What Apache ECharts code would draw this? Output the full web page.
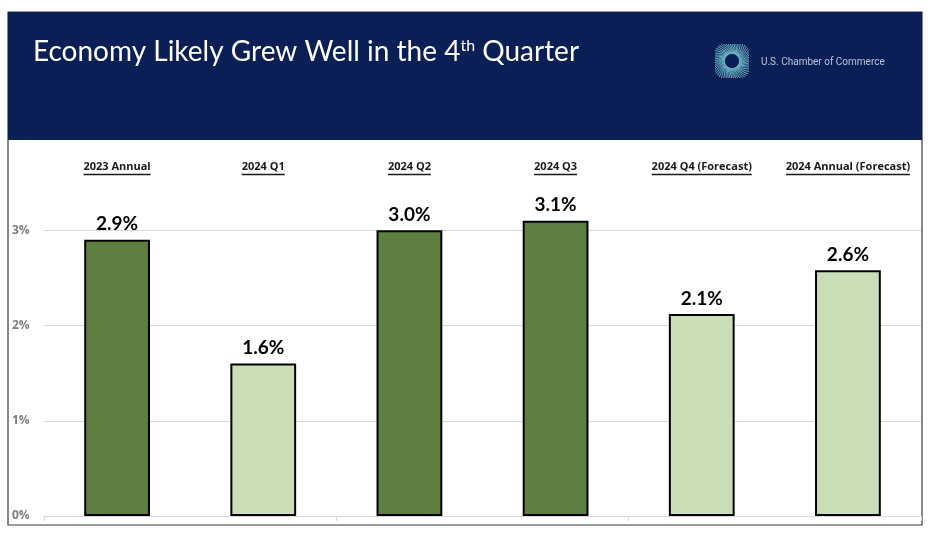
<!DOCTYPE html>
<html><head><meta charset="utf-8">
<script src="https://cdn.jsdelivr.net/npm/echarts@6/dist/echarts.min.js"></script>
<style>html,body{margin:0;padding:0;background:#fff}#c{width:936px;height:540px}</style>
</head><body><div id="c"></div>
<script>
const categories = ['2023 Annual','2024 Q1','2024 Q2','2024 Q3','2024 Q4 (Forecast)','2024 Annual (Forecast)'];
const growth = [2.9, 1.6, 3.0, 3.1, 2.12, 2.58];
const shade = ['dark','light','dark','dark','light','light'];
const yTicks = [0, 1, 2, 3, 4];

const palette = {dark:'#5E7F3F', light:'#CADFB8'};
const catFont = 'bold 11px "Open Sans"';
const mctx = document.createElement('canvas').getContext('2d');
mctx.font = catFont;
const widths = categories.map(c => Math.round(mctx.measureText(c).width));

const chart = echarts.init(document.getElementById('c'), null, {renderer:'canvas'});

// logo rays
const logo = [];
const cx = 732, cy = 61;
for (let i = 0; i < 56; i++) {
  const a = i / 56 * Math.PI * 2;
  const b = a + 0.6;
  const sq = 1 / Math.max(Math.abs(Math.cos(a)), Math.abs(Math.sin(a)));
  const r0 = 7, r1 = Math.min(17 * sq, 20.5);
  logo.push({type:'line', shape:{x1:cx + r0*Math.cos(b), y1:cy + r0*Math.sin(b), x2:cx + r1*Math.cos(a), y2:cy + r1*Math.sin(a)},
    style:{stroke:'#7FD3DA', lineWidth:0.8}, z:5});
}

chart.setOption({
  animation:false,
  backgroundColor:'#ffffff',
  graphic:[
    {type:'rect', shape:{x:8, y:12, width:914, height:513}, style:{fill:'#fff', stroke:'#3a3a3a', lineWidth:1.2}, z:-10, silent:true},
    {type:'rect', shape:{x:8, y:12, width:914, height:128}, style:{fill:'#0B1F57'}, z:3, silent:true},
    {type:'text', left:33, top:38, z:4, style:{
      text:'{a|Economy Likely Grew Well in the 4}{s|th}{a| Quarter}',
      rich:{a:{fontFamily:'Lato', fontSize:28, fill:'#fff', color:'#fff', verticalAlign:'bottom'},
            s:{fontFamily:'Lato', fontSize:16, fill:'#fff', color:'#fff', verticalAlign:'top', padding:[0,0,12,0]}}
    }},
    {type:'group', z:5, children: logo},
    {type:'circle', shape:{cx:cx, cy:cy, r:7}, style:{fill:'#0B1F57'}, z:6},
    {type:'text', left:761, top:57, z:5, style:{text:'U.S. Chamber of Commerce', fontFamily:'Roboto', fontSize:10, fill:'#B9C4DC'}}
  ],
  grid:{left:44, right:15, top:135, bottom:24},
  xAxis:[
    {type:'category', data:categories, position:'bottom',
      axisLine:{show:true, lineStyle:{color:'#d9d9d9', width:1}},
      axisTick:{show:true, length:5, lineStyle:{color:'#d9d9d9'}},
      axisLabel:{show:false}},
    {type:'category', data:categories, position:'top',
      axisLine:{show:false}, axisTick:{show:false},
      axisLabel:{show:true, inside:true, margin:25, interval:0,
        formatter:(v, i) => '{t|' + v + '}\n{u' + i + '|}',
        rich:Object.assign({t:{fontFamily:'Open Sans', fontWeight:'bold', fontSize:11, color:'#1a1a1a', lineHeight:13, align:'center'}},
          Object.fromEntries(categories.map((c, i) => ['u' + i, {backgroundColor:'#1a1a1a', height:1.5, lineHeight:3, width:widths[i], align:'center'}])))
      }}
  ],
  yAxis:{type:'value', min:0, max:4, interval:1,
    axisLine:{show:false}, axisTick:{show:false},
    splitLine:{show:true, showMaxLine:false, lineStyle:{color:'#d9d9d9', width:1}},
    axisLabel:{showMaxLabel:false, formatter:v => v + '%', fontFamily:'Open Sans', fontWeight:'bold', fontSize:12, color:'#7f7f7f',
      align:'left', margin:32}
  },
  series:[{
    type:'bar', barWidth:'45%',
    data: growth.map((v,i) => ({value:v, itemStyle:{color:palette[shade[i]], borderColor:'#000', borderWidth:2}})),
    label:{show:true, position:'top', distance:6, formatter:p => p.value.toFixed(1) + '%',
      fontFamily:'Lato', fontWeight:'bold', fontSize:19, color:'#000'}
  }]
});
</script></body></html>
